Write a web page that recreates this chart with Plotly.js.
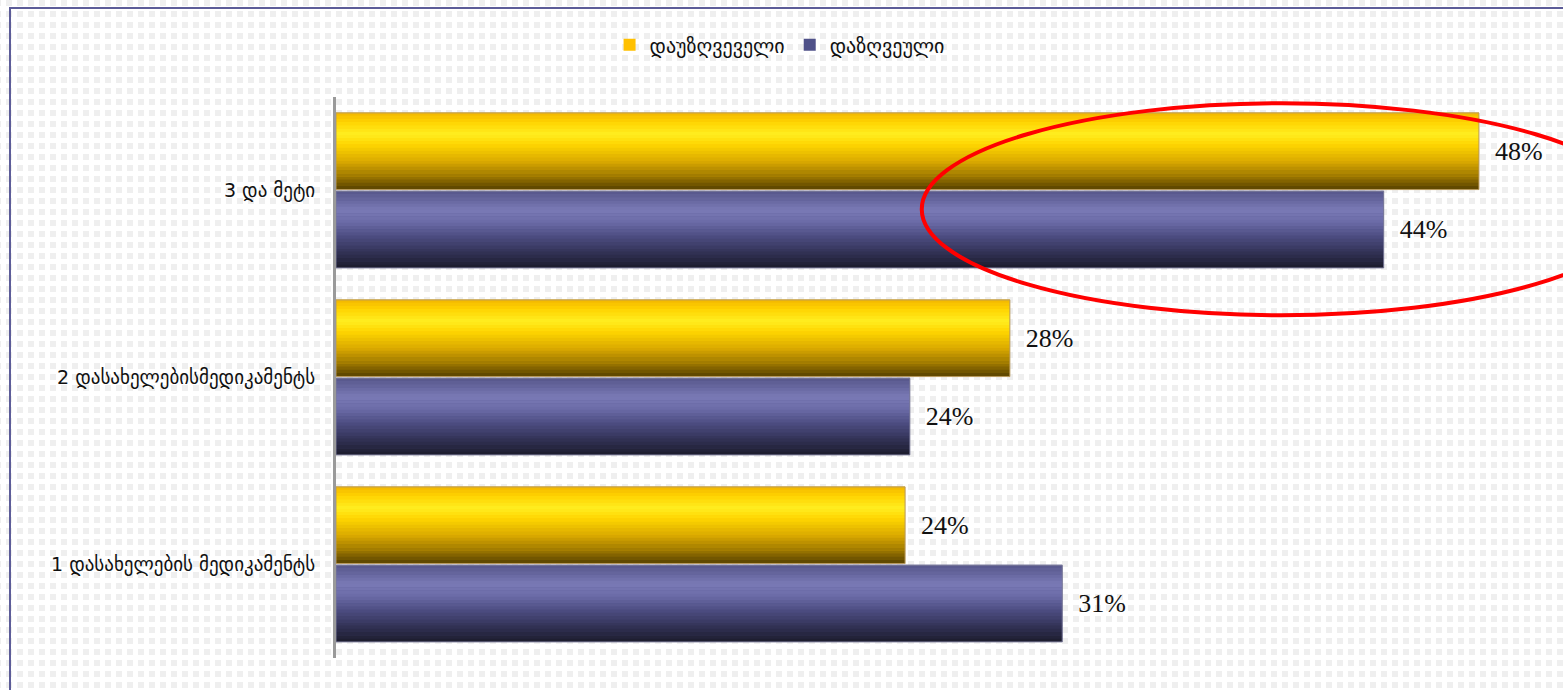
<!DOCTYPE html>
<html>
<head>
<meta charset="utf-8">
<script src="https://cdn.plot.ly/plotly-3.0.1.min.js"></script>
<style>
  html, body { margin:0; padding:0; width:1563px; height:690px; overflow:hidden; background:#ffffff; }
  #bg { position:absolute; left:0; top:0; width:1563px; height:690px;
        background-color:#efefef;
        background-image: linear-gradient(90deg, #ffffff 5px, rgba(255,255,255,0) 5px),
                          linear-gradient(0deg, #ffffff 5px, rgba(255,255,255,0) 5px);
        background-size: 11px 11px, 11px 11px; background-position: 1px 0px, 1px 0px; }
  #frame { position:absolute; left:9px; top:7px; width:1600px; height:700px;
           border-left:2px solid #5c5c98; border-top:2px solid #5c5c98; }
  #chart { position:absolute; left:0; top:0; width:1563px; height:690px; }
</style>
</head>
<body>
<div id="bg"></div>
<div id="frame"></div>
<div id="chart"></div>
<script>
// ---- data ----
const categories = ["1 დასახელების მედიკამენტს", "2 დასახელებისმედიკამენტს", "3 და მეტი"];
const seriesNames = ["დაუზღვეველი", "დაზღვეული"];
const uninsured = [23.9, 28.3, 48];   // დაუზღვეველი (%)
const insured = [30.5, 24.1, 44];     // დაზღვეული (%)

// ---- styling ----
const yellowStops = [[0, [242,182,0]], [0.12, [255,210,0]], [0.28, [255,238,32]], [0.42, [255,214,0]], [0.65, [214,166,0]], [0.85, [150,114,0]], [1, [88,66,0]]];
const blueStops = [[0, [86,86,138]], [0.25, [122,122,182]], [0.4, [108,108,168]], [0.6, [76,76,128]], [0.8, [50,50,86]], [1, [28,28,44]]];

function colorAt(stops, t) {
  for (let i = 0; i < stops.length - 1; i++) {
    const [p0, c0] = stops[i], [p1, c1] = stops[i+1];
    if (t >= p0 && t <= p1) {
      const f = (t - p0) / (p1 - p0);
      const c = c0.map((v, k) => Math.round(v + (c1[k] - v) * f));
      return 'rgb(' + c.join(',') + ')';
    }
  }
  const c = stops[stops.length-1][1];
  return 'rgb(' + c.join(',') + ')';
}

const N = 24;
const barW = 0.41;
const traces = [];

function addSeries(values, name, top, stops, legendColor, lineColor) {
  // base trace: legend entry + value label
  traces.push({
    type: 'bar', orientation: 'h', y: categories, x: values, name: name,
    offset: top - barW, width: barW,
    marker: { color: legendColor, line: { width: 0 } },
    texttemplate: '\u00a0\u00a0%{x:.0f}%', textposition: 'outside', constraintext: 'none',
    cliponaxis: false,
    textfont: { family: '"Liberation Serif", "DejaVu Serif", serif', size: 26, color: '#111111' },
    hoverinfo: 'skip'
  });
  // gradient slices
  const sw = barW / N;
  for (let i = 0; i < N; i++) {
    const t = (i + 0.5) / N;
    traces.push({
      type: 'bar', orientation: 'h', y: categories, x: values, showlegend: false,
      offset: top - (i + 1) * sw, width: sw + 0.002,
      marker: { color: colorAt(stops, t), line: { width: 0 } },
      hoverinfo: 'skip'
    });
  }
  // outline
  traces.push({
    type: 'bar', orientation: 'h', y: categories, x: values, showlegend: false,
    offset: top - barW, width: barW,
    marker: { color: 'rgba(0,0,0,0)', line: { width: 1, color: lineColor } },
    hoverinfo: 'skip'
  });
}

addSeries(uninsured, seriesNames[0], 0.415, yellowStops, '#ffc000', '#b89a60');
addSeries(insured, seriesNames[1], -0.004, blueStops, '#4f5189', '#7a7a98');

const layout = {
  width: 1563, height: 690,
  paper_bgcolor: 'rgba(0,0,0,0)', plot_bgcolor: 'rgba(0,0,0,0)',
  margin: { l: 336, r: 0, t: 97, b: 32 },
  barmode: 'overlay',
  showlegend: true,
  legend: {
    orientation: 'h', xref: 'container', yref: 'container',
    x: 0.39, xanchor: 'left', y: 0.935, yanchor: 'middle',
    font: { family: '"DejaVu Sans", sans-serif', size: 20, color: '#111111' },
    traceorder: 'normal', itemwidth: 30, bgcolor: 'rgba(0,0,0,0)'
  },
  xaxis: { range: [0, 51.53], showgrid: false, zeroline: false, showline: false,
           showticklabels: false, ticks: '', fixedrange: true },
  yaxis: { type: 'category', categoryorder: 'array', categoryarray: categories,
           range: [-0.5, 2.5], showgrid: false, zeroline: false,
           showline: true, linecolor: '#9a9a9a', linewidth: 3,
           ticks: '', ticklabelstandoff: 14,
           tickfont: { family: '"DejaVu Sans", sans-serif', size: 19, color: '#111111' } },
  shapes: [{
    type: 'circle', xref: 'x', yref: 'paper',
    x0: 24.6, x1: 54.8, y0: 0.611, y1: 0.989,
    line: { color: '#ff0000', width: 4 }, fillcolor: 'rgba(0,0,0,0)', layer: 'above'
  }]
};

Plotly.newPlot('chart', traces, layout, { displayModeBar: false, staticPlot: true });
</script>
</body>
</html>
